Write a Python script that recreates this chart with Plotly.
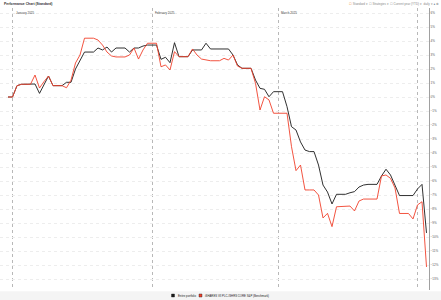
import pandas as pd
import plotly.graph_objects as go

start_date = "2024-12-31"
end_date = "2025-04-03"

# daily values (calendar days, weekends carried), percent performance
portfolio = [
    0.00, 0.00, 0.81, 0.91, 0.91, 0.91, 0.93, 0.26, 0.90, 1.50,   # Dec31 - Jan9
    0.81, 0.81, 0.81, 1.05, 1.05, 2.00, 2.64, 3.21, 3.21, 3.21,   # Jan10 - Jan19
    3.50, 3.36, 3.57, 3.21, 3.50, 3.50, 3.50, 3.21, 3.50, 3.50,   # Jan20 - Jan29
    3.64, 3.71, 3.71, 3.71, 2.69, 2.84, 2.45, 3.88, 2.88, 2.88,   # Jan30 - Feb8
    2.88, 3.36, 3.36, 3.36, 3.84, 3.43, 3.43, 3.43, 3.43, 3.43,   # Feb9 - Feb18
    3.00, 2.29, 2.05, 2.05, 2.05, 1.21, 0.62, 0.55, 0.02, 0.38,   # Feb19 - Feb28
    0.38, 0.38, -0.69, -2.12, -2.36, -3.21, -3.79, -3.90, -3.90, -4.86,  # Mar1 - Mar10
    -6.29, -6.79, -7.64, -6.95, -6.95, -6.95, -6.84, -6.76, -6.43, -6.29,  # Mar11 - Mar20
    -6.24, -6.24, -6.24, -5.64, -5.16, -5.57, -6.29, -7.04, -7.04, -7.04,  # Mar21 - Mar30
    -7.04, -6.57, -6.24, -9.71,                                   # Mar31 - Apr3
]
benchmark = [
    0.00, 0.00, 0.81, 0.91, 0.91, 0.91, 1.57, 0.64, 1.10, 1.50,
    0.81, 0.81, 0.81, 0.66, 1.20, 2.43, 3.00, 4.20, 4.20, 4.20,
    4.07, 3.71, 3.21, 2.93, 2.86, 2.86, 2.86, 3.00, 3.50, 2.71,
    3.36, 3.84, 3.84, 3.84, 2.16, 2.29, 1.93, 3.24, 2.88, 2.88,
    2.88, 3.43, 3.00, 2.71, 2.64, 2.59, 2.59, 2.59, 2.76, 2.64,
    3.00, 2.21, 2.05, 2.05, 2.05, 0.98, -0.93, 0.02, -0.21, -1.16,
    -1.16, -1.16, -1.16, -3.55, -5.26, -4.86, -6.64, -6.64, -6.64, -7.00,
    -8.64, -8.31, -9.26, -7.84, -7.84, -7.84, -7.79, -8.14, -7.43, -7.29,
    -7.29, -7.29, -7.29, -5.64, -5.57, -5.81, -6.50, -8.32, -8.32, -8.32,
    -8.71, -7.71, -7.48, -12.14,
]
series_names = ["Entire portfolio", "iSHARES VII PLC-ISHRS CORE S&P (Benchmark)"]
series_colors = ["#1a1a1a", "#f0412b"]
month_labels = ["January 2025", "February 2025", "March 2025"]
month_starts = ["2025-01-01", "2025-02-01", "2025-03-01"]

dates = pd.date_range(start_date, end_date, freq="D")

fig = go.Figure()
for vals, name, col in zip([portfolio, benchmark], series_names, series_colors):
    fig.add_trace(go.Scatter(x=dates, y=vals, mode="lines", name=name,
                             line=dict(color=col, width=0.9), showlegend=False))

x0 = pd.Timestamp(start_date) - pd.Timedelta(hours=42.7)
x1 = pd.Timestamp(end_date) + pd.Timedelta(hours=13.3)

fig.update_layout(
    width=441, height=300,
    margin=dict(l=0, r=12, t=8, b=10, autoexpand=False),
    paper_bgcolor="white", plot_bgcolor="white",
    font=dict(family="Arial, Liberation Sans, sans-serif", size=3, color="#555"),
    xaxis=dict(range=[x0, x1], type="date", dtick="M1", tick0="2025-01-01",
               showticklabels=False, showgrid=True, gridcolor="#b8b8b8",
               griddash="dot", gridwidth=1, zeroline=False, showline=False),
    yaxis=dict(range=[-13.786, 6.357], side="right", dtick=1, ticksuffix="%",
               showgrid=True, gridcolor="#ededed", griddash="dot", gridwidth=1,
               zeroline=False, showline=True, linecolor="#a0a0a0", linewidth=1,
               ticks="", tickfont=dict(size=3, color="#555")),
    showlegend=False,
)

# light grey band under the chart
fig.add_shape(type="rect", xref="paper", yref="paper", x0=-0.01, x1=1.05,
              y0=-0.004, y1=-0.2, fillcolor="#f4f4f4", line=dict(width=0), layer="below")

# custom legend (square + label), positions in paper units (plot width 429px, height 282px)
W, H = 429.0, 282.0
legend_x = [171.5, 199.0]
for (lx, name, col) in zip(legend_x, series_names, series_colors):
    fig.add_shape(type="rect", xref="paper", yref="paper",
                  x0=lx / W, x1=(lx + 3) / W, y0=-4 / H, y1=-7 / H,
                  fillcolor=col, line=dict(width=0.4, color="#222"))
    fig.add_annotation(x=(lx + 4) / W, y=-5.5 / H, xref="paper", yref="paper",
                       text=name, showarrow=False, xanchor="left", yanchor="middle",
                       font=dict(size=2.8, color="#222"))

for lab, ms in zip(month_labels, month_starts):
    fig.add_annotation(x=ms, y=0.995, xref="x", yref="paper", text=lab,
                       showarrow=False, xanchor="left", yanchor="top", xshift=1,
                       font=dict(size=3, color="#444"))

fig.add_annotation(x=0.005, y=1.0, xref="paper", yref="paper",
                   text="<b>Performance Chart (Standard)</b>", showarrow=False,
                   xanchor="left", yanchor="bottom", yshift=0,
                   font=dict(size=3.4, color="#333"))
fig.add_annotation(x=1.027, y=1.0, xref="paper", yref="paper",
                   text=("<span style='color:#f08a24'>☐</span> Standard ▾ "
                         "<span style='color:#999'>☐</span> Strategies ▾ "
                         "<span style='color:#999'>☐</span> Current year (YTD) ▾  daily ▾ "
                         "<span style='color:#5a6f8f'>●</span> <span style='color:#666'>⚙</span>"),
                   showarrow=False, xanchor="right", yanchor="bottom",
                   font=dict(size=3, color="#888"))

fig.write_html("out.html")
